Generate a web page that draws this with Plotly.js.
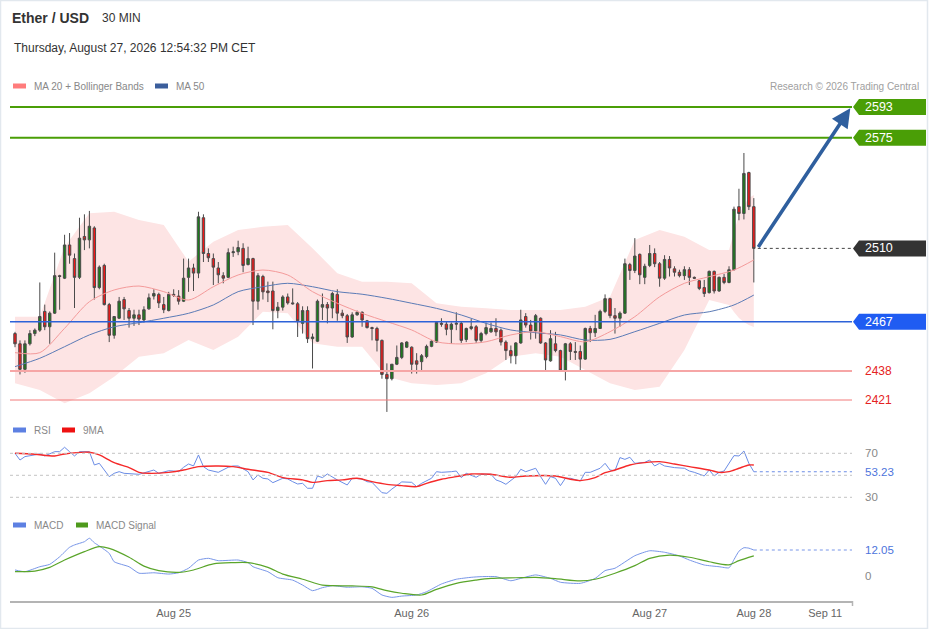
<!DOCTYPE html>
<html><head><meta charset="utf-8">
<script src="https://cdn.plot.ly/plotly-3.0.1.min.js"></script>
<style>html,body{margin:0;padding:0;background:#fff;}#chart{width:929px;height:629px;}</style>
</head><body><div id="chart"></div>
<script>
// ---------------- DATA ----------------
const OPEN  = [2460,2454,2439,2454,2460,2462,2473,2464,2472,2494,2492.5,2512,2504,2493,2517,2515,2522,2487,2500,2477,2459,2469,2480,2473.5,2469,2471,2468,2474.5,2482,2483,2477,2473.5,2483,2482,2479,2493,2498.5,2495.5,2528,2507,2504,2498.5,2494,2493,2507.5,2508,2510,2500.5,2504,2479,2493.5,2485,2485,2473.5,2475.5,2481.5,2478,2477.5,2466,2473.5,2457,2455.5,2475.5,2477,2475,2483,2472,2470.5,2458,2471,2472.5,2467.5,2463.5,2463,2456,2436,2433.5,2442,2446,2452,2452,2444,2443.5,2446.5,2452.5,2455,2466,2465.5,2462.5,2465.5,2466,2456.5,2463,2464,2456,2460,2461,2463,2462,2455,2450,2447,2454.5,2470,2465,2461.5,2469,2454.5,2444,2454,2450,2438.5,2454,2449.5,2449.5,2445,2463,2460.5,2463,2473,2480.5,2470.5,2469,2472,2500.5,2497,2506.5,2493,2500,2507,2501,2492.5,2503.5,2498,2496,2494,2497.5,2493,2491,2487,2484,2496.5,2485,2493,2490,2497.5,2534.5,2530.5,2554.5,2534.5];
const HIGH  = [2461,2456,2456,2462,2463,2490,2477,2473,2507.5,2494.5,2518,2519,2507,2528,2530,2532,2523,2500,2501,2478,2470,2481.5,2481.5,2475,2474,2474,2476,2483.5,2486,2484,2481.5,2484.5,2486,2485.5,2504,2504,2501,2531.5,2530,2510,2507,2502,2496,2510,2511,2514.5,2513,2511,2504.5,2495.5,2494.5,2490.5,2490.5,2478.5,2482.5,2483.5,2486.5,2478.5,2476,2476,2460,2480,2483.5,2478.5,2484.5,2486,2474,2471.5,2472.5,2473.5,2473,2468,2464,2464,2456.5,2442.5,2442,2453,2455,2455.5,2452.5,2448.5,2448,2453.5,2456,2467,2469,2467,2466.5,2472.5,2467,2463.5,2468.5,2465,2461,2466.5,2466.5,2469,2463,2456,2453,2455,2474,2472,2468,2471.5,2469.5,2455,2462,2461,2450.5,2454.5,2455,2455,2453,2463.5,2464.5,2471,2474,2483,2481,2475,2473,2504,2501.5,2516,2507,2501,2512,2510,2502,2506,2505.5,2499.5,2497.5,2499.5,2499,2493.5,2491.5,2491.5,2497,2497,2493.5,2495,2499.5,2534.5,2545,2566,2555,2539.5];
const LOW   = [2452,2436,2437,2453,2458.5,2461,2462,2454,2471.5,2474,2492,2501,2475,2492,2509,2510,2480,2486,2476.5,2455,2457,2468.5,2468,2463.5,2464.5,2465,2466.5,2474,2480,2475,2472,2473,2481.5,2477,2478.5,2484.5,2485,2492.5,2502,2502,2488.5,2489.5,2489.5,2492.5,2505,2506,2496,2500,2465,2474,2480,2478.5,2462.5,2469,2473.5,2477,2477,2458,2460,2454.5,2439.5,2455,2468,2466,2469,2467.5,2469,2454.5,2457.5,2470.5,2464,2463,2456,2449.5,2433.5,2414,2432.5,2441.5,2445,2451.5,2436.5,2436.5,2437.5,2445.5,2452,2454.5,2464,2459,2454,2462,2454.5,2455,2462,2454.5,2454.5,2459,2460.5,2458.5,2453,2444.5,2442.5,2442,2454,2463.5,2456.5,2457,2454,2437.5,2443.5,2449,2437.5,2432.5,2444.5,2444.5,2438.5,2444.5,2455,2458,2463,2472,2469,2460,2464,2471.5,2491.5,2495.5,2489,2489,2499,2499,2487.5,2491.5,2493.5,2493.5,2493,2491.5,2488.5,2492,2485.5,2481.5,2483.5,2483.5,2484.5,2489,2489.5,2497,2526.5,2527,2532.5,2490];
const CLOSE = [2454,2439,2454,2460,2462,2470,2464,2472,2494,2493.5,2512,2506,2493,2516,2515,2523,2487,2499,2477,2459,2470,2479,2474.5,2469,2471,2468.5,2474,2481,2483.5,2478,2474,2483,2482.5,2479,2492.5,2498.5,2495.5,2528.5,2507,2504.5,2499,2494.5,2492.5,2507.5,2508,2510.5,2500,2504,2479,2494,2484.5,2484,2473.5,2475.5,2481.5,2478,2477.5,2467.5,2473.5,2457,2458,2479,2477,2475,2483.5,2472,2470.5,2458,2471,2472.5,2468,2463.5,2463,2456,2436,2433.5,2442,2446,2454.5,2455,2442,2442,2447,2452.5,2455.5,2466.5,2465.5,2462.5,2465.5,2466,2456,2463,2464,2456,2460,2463.5,2463,2461,2455,2450,2447,2454.5,2468,2465,2461.5,2470.5,2454.5,2444.5,2457,2450,2438.5,2454,2449.5,2449,2445,2463,2460.5,2463,2473,2480.5,2470.5,2469,2472,2501,2497,2505.5,2494.5,2499.5,2507,2501,2492.5,2503.5,2498.5,2496,2494,2497.5,2493,2492.5,2486.5,2483.5,2496.5,2485,2493,2490,2497.5,2533,2530.5,2554,2534.5,2510];

const MA_IDX = [0,5,10,15,20,25,30,35,40,45,50,55,60,65,70,75,80,85,90,95,100,105,110,115,120,125,130,135,140,145,149];
const MA20 = [2448.8,2448.8,2463.1,2478.7,2485.6,2487.9,2484.6,2479.7,2487.5,2494.4,2497.3,2494.4,2484.6,2477.8,2471.9,2467.0,2462.1,2455.2,2453.9,2455.2,2459.2,2461.1,2458.2,2455.2,2461.1,2469.9,2481.6,2489.5,2493.4,2497.3,2503.2];
const MA50 = [2440.6,2445.5,2452.3,2459.2,2464.0,2466.4,2469.0,2471.9,2476.8,2484.6,2487.5,2489.5,2487.5,2484.6,2483.1,2480.7,2477.8,2474.8,2470.9,2466.0,2462.1,2460.5,2459.2,2456.2,2456.6,2461.1,2466.0,2470.9,2472.8,2476.8,2482.6];

const BB_IDX = [0,5,10,15,20,25,30,35,40,45,50,55,60,65,70,75,80,85,90,95,100,105,110,115,120,125,130,135,140,144,145,146,147,148,149];
const BB_UPPER = [2469.9,2469.9,2511.0,2530.6,2531.5,2526.7,2523.7,2502.2,2513.9,2520.8,2522.7,2523.7,2510.1,2495.4,2490.4,2490.4,2489.5,2477.8,2475.8,2474.8,2473.8,2473.8,2473.8,2475.8,2481.6,2514.9,2520.8,2516.9,2509.1,2509.1,2519.6,2529.6,2535.5,2539.6,2541.3];
const BB_LOWER = [2430.8,2426.9,2419.1,2424.9,2434.7,2446.4,2448.4,2456.2,2450.4,2458.2,2472.8,2471.9,2454.3,2452.3,2452.3,2434.7,2430.8,2429.8,2430.8,2436.7,2446.4,2448.4,2446.4,2438.6,2430.8,2426.9,2428.8,2450.4,2479.7,2476.8,2472.7,2469.1,2466.8,2465.0,2463.9];

const RSI_IDX = [0,1,2,4,5,6,8,9,10,11,12,13,15,16,17,19,20,21,22,25,27,28,29,31,32,33,34,35,36,37,38,39,41,43,44,45,47,48,49,50,51,52,54,55,56,57,58,59,60,61,62,63,65,67,68,70,71,72,74,75,76,77,78,80,81,82,84,85,86,88,89,90,91,93,94,96,97,98,99,101,102,103,105,106,107,108,109,110,111,112,114,115,116,118,119,120,121,122,123,124,125,127,128,129,130,131,133,135,136,137,139,140,141,142,143,145,146,147,148,149];
const RSI = [70,63.9,67,68.5,69.4,67.6,71.5,71.5,75.5,71.5,67.6,71.5,71.5,59.4,60.9,48.8,51.8,53.3,51.8,50.9,53.3,54.8,51.8,54.2,53.9,53.3,57.3,60.3,58.5,68.5,57.9,54.8,52.7,57.3,58.5,58.5,53.3,45.8,50.3,47.3,46.7,43.3,47.3,46.7,44.2,42.1,42.7,38.2,38.2,49.4,47.9,51.2,45.8,41.2,47.3,46.7,44.2,43.6,34.2,33.6,37.5,40.6,44,43.6,39.7,42.7,47.3,53.3,52.7,53.3,53.9,47.9,51.8,48.2,50.9,50.9,45.8,44.2,41.8,48.8,55.5,53.3,56.4,48.8,41.8,48.8,47.3,40.6,47.3,47.3,44.8,52.7,52.7,56.4,60.9,54.8,54.2,66.1,64.5,66.4,60.9,61.8,63.9,58.5,60.9,58.5,57,56.4,53.9,52.7,49.4,54.8,49.4,52.7,53.9,67.9,67.6,72.1,60.9,53.23];
const RSI_MA_IDX = [0,4,8,10,15,17,20,23,25,27,31,34,37,41,44,47,51,54,58,60,63,66,69,72,75,78,81,83,86,89,92,94,96,100,103,109,112,114,117,119,121,124,127,130,133,136,140,142,144,146,148,149];
const RSI_MA = [70,69.1,67.6,69.4,70.9,68.5,61.5,57,52.7,51.8,52.7,54.8,57.9,58.5,57.9,55.5,52.7,47.9,45.8,43.6,45.2,45.8,47.3,44.2,41.8,40.6,39.7,42.7,46.4,48.8,51.2,51.2,50.9,48.2,49.4,49.4,46.4,45.2,47.9,52.4,54.8,59.4,61.5,62.4,60.3,57.9,54.8,52.7,53.3,56.4,59.4,59.4];
const RSI_GRID = [70,50,30];
const RSI_LABELS = [70,30];

const MACD_IDX = [0,2,5,7,9,11,12,14,15,16,17,19,20,23,25,28,31,33,35,37,39,41,45,47,48,51,53,56,58,60,62,64,67,70,72,74,76,78,81,83,86,89,92,94,97,100,102,105,108,110,114,117,119,121,125,128,131,134,136,139,142,144,145,146,147,148,149];
const MACD = [2.8,2.0,4.3,5.4,8.9,13.3,14.4,15.9,17.5,15.4,13.9,10.5,6.6,4.3,1.3,1.5,0.9,1.5,3.6,7.4,8.2,7.1,7.4,6.2,4.3,2.0,-0.8,-1.9,-4.2,-6.8,-5.4,-4.5,-5.2,-5.0,-5.7,-8.8,-9.9,-9.3,-8.8,-7.3,-3.7,-1.5,-0.6,-0.3,-0.3,-2.2,-1.1,0.5,-1.1,-2.9,-3.4,-1.1,2.5,3.6,9.4,11.7,11.0,9.3,7.4,5.1,4.3,3.8,7.6,11.5,13.1,12.9,12.05];
const SIG_IDX = [0,4,7,10,14,17,19,23,26,29,33,36,40,44,47,51,54,58,62,64,68,72,75,78,82,85,89,93,96,101,105,109,114,117,121,125,128,132,136,140,144,146,149];
const SIGNAL = [2.0,2.3,4.0,7.4,11.3,13.6,12.8,8.7,4.6,2.5,1.7,2.8,5.6,6.2,6.2,4.0,0.9,-1.5,-4.2,-4.5,-4.6,-5.0,-6.8,-8.0,-8.8,-6.2,-3.4,-1.9,-1.1,-0.8,-0.6,-1.2,-2.3,-1.5,1.3,4.8,8.2,9.7,8.7,6.6,5.2,7.1,9.3];
const MACD_LABELS = [0];

const RESISTANCE = [2593,2575];
const PIVOT = 2467;
const SUPPORT = [2438,2421];

const TICK_IDX = [32,80,128,149,163.4];
const TICK_TEXT = ['Aug 25','Aug 26','Aug 27','Aug 28','Sep 11'];

// ---------------- LAYOUT HELPERS ----------------
const W=929,H=629,ML=10,MR=77,PW=W-ML-MR;
const px = v => (v-ML)/PW;
const py = v => 1 - v/H;
const XMAX = 168.8;
const IDX = OPEN.map((_,i)=>i);
const LAST = IDX.length-1;

const FONT = 'Liberation Sans, Arial, Helvetica, sans-serif';
const GREEN='#4a9e06', BLUE_BOX='#1f5cf2', DARK='#333333', RED_TXT='#e52222';
const RSI_BLUE='#6b8de6', MACD_BLUE='#7896e8';

const traces = [
  {type:'scatter',mode:'lines',x:MA_IDX,y:MA50,line:{color:'#5b7bb6',width:1,shape:'spline',smoothing:0.8},hoverinfo:'skip'},
  {type:'scatter',mode:'lines',x:MA_IDX,y:MA20,line:{color:'#f49a9a',width:1,shape:'spline',smoothing:0.8},hoverinfo:'skip'},
  {type:'candlestick',x:IDX,open:OPEN,high:HIGH,low:LOW,close:CLOSE,whiskerwidth:0,
   increasing:{line:{color:'#4a4a4a',width:1},fillcolor:'#1c7c1c'},
   decreasing:{line:{color:'#4a4a4a',width:1},fillcolor:'#f01818'},hoverinfo:'skip'},
  {type:'scatter',mode:'lines',x:RSI_IDX,y:RSI,yaxis:'y2',line:{color:RSI_BLUE,width:1},hoverinfo:'skip'},
  {type:'scatter',mode:'lines',x:RSI_MA_IDX,y:RSI_MA,yaxis:'y2',line:{color:'#f52a2a',width:1.4,shape:'spline',smoothing:0.8},hoverinfo:'skip'},
  {type:'scatter',mode:'lines',x:MACD_IDX,y:MACD,yaxis:'y3',line:{color:MACD_BLUE,width:1,shape:'spline',smoothing:0.5},hoverinfo:'skip'},
  {type:'scatter',mode:'lines',x:SIG_IDX,y:SIGNAL,yaxis:'y3',line:{color:'#5aa52a',width:1.2,shape:'spline',smoothing:0.8},hoverinfo:'skip'}
];

const shapes = [];
const annotations = [];

// container border
shapes.push({type:'rect',xref:'paper',yref:'paper',x0:px(0.5),x1:px(W-1.5),y0:py(H-0.5),y1:py(0.5),line:{color:'#e2e8ee',width:1.5},layer:'below'});

// Bollinger band fill
let bbPath = 'M ' + BB_IDX.map((x,k)=>x+','+BB_UPPER[k]).join(' L ');
for (let k=BB_IDX.length-1;k>=0;k--) bbPath += ' L ' + BB_IDX[k]+','+BB_LOWER[k];
bbPath += ' Z';
shapes.push({type:'path',xref:'x',yref:'y',path:bbPath,fillcolor:'#fde4e4',line:{width:0},layer:'below'});

// price level lines
function boxLabel(level, color, yref){
  shapes.push({type:'path',xref:'paper',yref:yref,xsizemode:'pixel',ysizemode:'pixel',xanchor:1,yanchor:level,
    path:'M 1,0 L 7,8 L 74,8 L 74,-8 L 7,-8 Z',fillcolor:color,line:{width:0}});
  annotations.push({xref:'paper',yref:yref,x:1,y:level,xshift:11,xanchor:'left',yanchor:'middle',showarrow:false,
    text:String(level),font:{family:FONT,size:12.5,color:'#ffffff'}});
}
RESISTANCE.forEach(v=>{
  shapes.push({type:'line',xref:'paper',yref:'y',x0:0,x1:1,y0:v,y1:v,line:{color:GREEN,width:2}});
  boxLabel(v,GREEN,'y');
});
shapes.push({type:'line',xref:'paper',yref:'y',x0:0,x1:1,y0:PIVOT,y1:PIVOT,line:{color:'#2d62d8',width:1.5}});
boxLabel(PIVOT,BLUE_BOX,'y');
SUPPORT.forEach((v,k)=>{
  shapes.push({type:'line',xref:'paper',yref:'y',x0:0,x1:1,y0:v,y1:v,line:{color:k===0?'#f6a6a6':'#f27a7a',width:k===0?2:1}});
  annotations.push({xref:'paper',yref:'y',x:1,y:v,xshift:11,xanchor:'left',yanchor:'middle',showarrow:false,
    text:String(v),font:{family:FONT,size:12,color:RED_TXT}});
});
// last price
const lastPrice = CLOSE[LAST];
shapes.push({type:'line',xref:'x',yref:'y',x0:LAST+0.8,x1:XMAX,y0:lastPrice,y1:lastPrice,line:{color:'#444',width:1,dash:'dot'}});
boxLabel(lastPrice,DARK,'y');

// forecast arrow
annotations.push({xref:'x',yref:'y',axref:'x',ayref:'y',x:XMAX-0.35,y:RESISTANCE[0]-0.8,ax:LAST+0.7,ay:lastPrice,
  showarrow:true,arrowhead:2,arrowsize:1.05,arrowwidth:3.6,arrowcolor:'#2f5f9e',text:'',standoff:0,startstandoff:0});

// RSI grid + labels
RSI_GRID.forEach(v=>shapes.push({type:'line',xref:'paper',yref:'y2',x0:0,x1:1,y0:v,y1:v,line:{color:'#c4c4c4',width:1,dash:'dot'}}));
RSI_LABELS.forEach(v=>annotations.push({xref:'paper',yref:'y2',x:1,y:v,xshift:11,xanchor:'left',yanchor:'middle',showarrow:false,
  text:String(v),font:{family:FONT,size:11.5,color:'#888'}}));
const rsiLast = RSI[RSI.length-1];
shapes.push({type:'line',xref:'x',yref:'y2',x0:LAST,x1:XMAX,y0:rsiLast,y1:rsiLast,line:{color:RSI_BLUE,width:1,dash:'dot'}});
annotations.push({xref:'paper',yref:'y2',x:1,y:rsiLast,xshift:11,xanchor:'left',yanchor:'middle',showarrow:false,
  text:rsiLast.toFixed(2),font:{family:FONT,size:11.5,color:'#4d74dc'}});

// MACD labels
MACD_LABELS.forEach(v=>annotations.push({xref:'paper',yref:'y3',x:1,y:v,xshift:11,xanchor:'left',yanchor:'middle',showarrow:false,
  text:String(v),font:{family:FONT,size:11.5,color:'#888'}}));
const macdLast = MACD[MACD.length-1];
shapes.push({type:'line',xref:'x',yref:'y3',x0:LAST,x1:XMAX,y0:macdLast,y1:macdLast,line:{color:MACD_BLUE,width:1,dash:'dot'}});
annotations.push({xref:'paper',yref:'y3',x:1,y:macdLast,xshift:11,xanchor:'left',yanchor:'middle',showarrow:false,
  text:macdLast.toFixed(2),font:{family:FONT,size:11.5,color:'#4d74dc'}});

// axis end tick
shapes.push({type:'line',xref:'paper',yref:'paper',x0:px(852.5),x1:px(852.5),y0:py(601),y1:py(606),line:{color:'#b4b4b4',width:1.5}});

// header texts
function txt(x,y,text,size,color,anchor){
  annotations.push({xref:'paper',yref:'paper',x:px(x),y:py(y),xanchor:anchor||'left',yanchor:'middle',showarrow:false,
    text:text,font:{family:FONT,size:size,color:color}});
}
txt(10,18,'<b>Ether / USD</b>',14,'#333');
txt(100,18,'30 MIN',12,'#333');
txt(12,48,'Thursday, August 27, 2026 12:54:32 PM CET',12,'#333');
txt(921,86,'Research © 2026 Trading Central',10,'#a0a0a0','right');

// legends
function swatch(x0,x1,y,color){
  shapes.push({type:'rect',xref:'paper',yref:'paper',x0:px(x0),x1:px(x1),y0:py(y+2.5),y1:py(y-2.5),fillcolor:color,line:{width:0}});
}
swatch(13,26,86,'#ff7c7c'); txt(32,86,'MA 20 + Bollinger Bands',10,'#888');
swatch(155,168,86,'#3b5e9c'); txt(174,86,'MA 50',10,'#888');
swatch(13,26,430,'#5d80e2'); txt(32,430,'RSI',10,'#888');
swatch(62,75,430,'#ee1111'); txt(81,430,'9MA',10,'#888');
swatch(13,26,525,'#5d80e2'); txt(32,525,'MACD',10,'#888');
swatch(76,88,525,'#4e9a1c'); txt(94,525,'MACD Signal',10,'#888');

const layout = {
  width:W,height:H,margin:{l:ML,r:MR,t:0,b:0,pad:0},
  paper_bgcolor:'#ffffff',plot_bgcolor:'#ffffff',showlegend:false,hovermode:false,
  font:{family:FONT,color:'#333'},
  xaxis:{range:[-1.01,XMAX],anchor:'y3',showline:true,linecolor:'#b4b4b4',linewidth:2,showgrid:false,zeroline:false,
    tickmode:'array',tickvals:TICK_IDX,ticktext:TICK_TEXT,ticks:'outside',ticklen:1,tickcolor:'rgba(0,0,0,0)',
    tickfont:{family:FONT,size:11,color:'#666'},rangeslider:{visible:false},fixedrange:true},
  yaxis:{domain:[py(415),py(92)],range:[2412.2,2601.8],visible:false,fixedrange:true},
  yaxis2:{domain:[py(505),py(440)],range:[23,82.1],visible:false,fixedrange:true},
  yaxis3:{domain:[py(601),py(535)],range:[-11.58,19.0],visible:false,fixedrange:true},
  shapes:shapes,annotations:annotations
};

Plotly.newPlot('chart',traces,layout,{staticPlot:true,displayModeBar:false});
</script>
</body></html>
